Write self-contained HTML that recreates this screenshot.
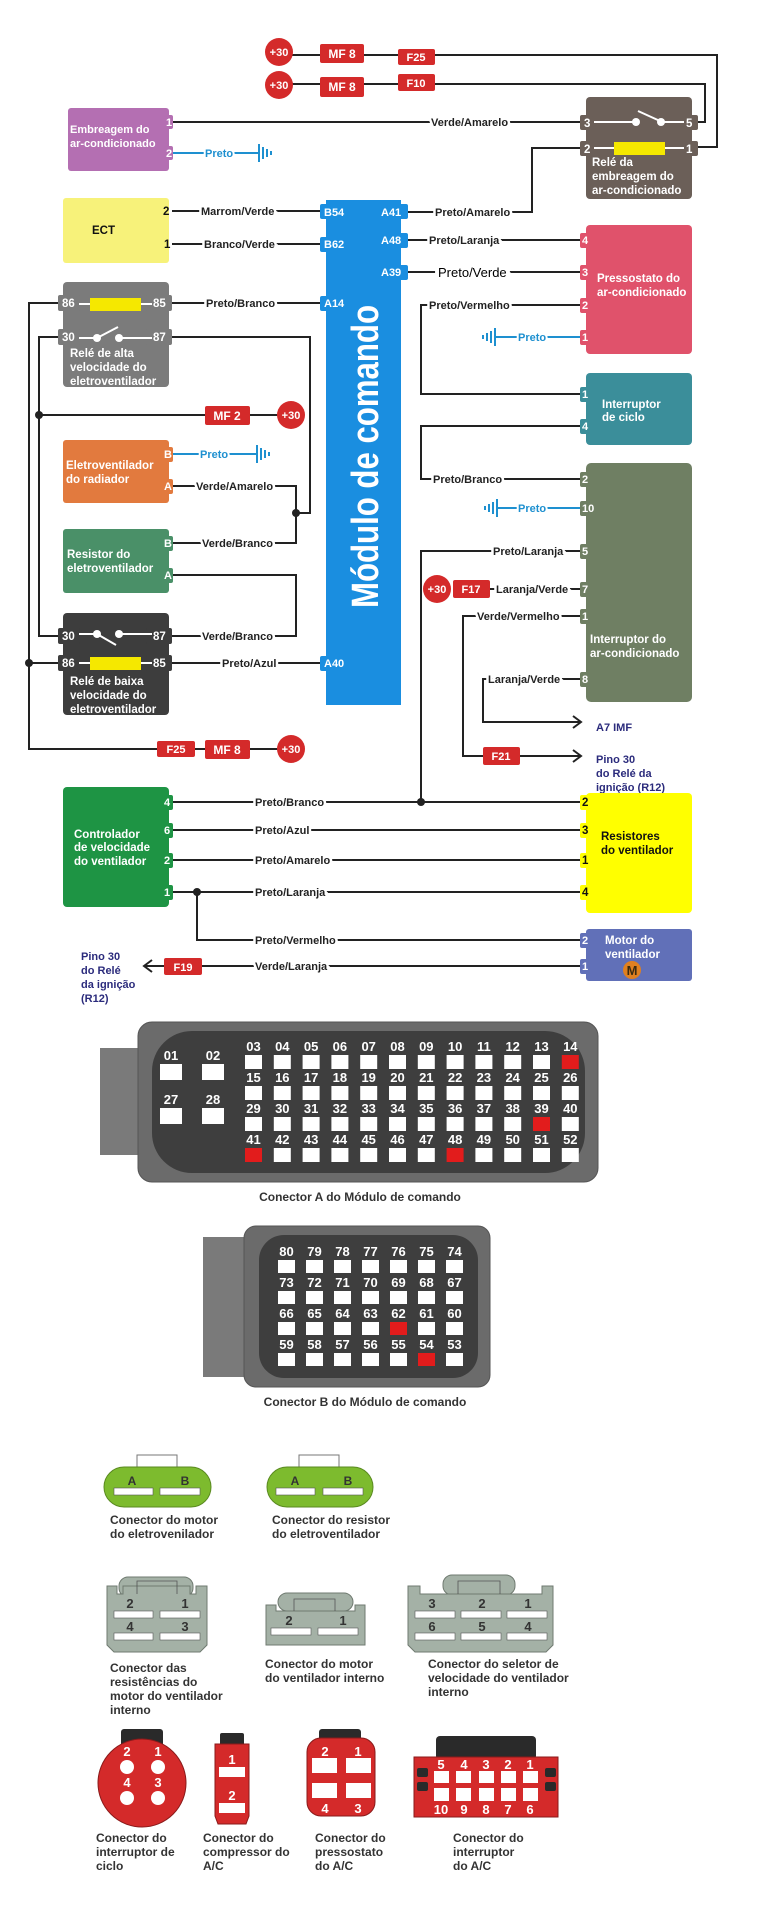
<!DOCTYPE html>
<html><head><meta charset="utf-8"><style>
html,body{margin:0;padding:0;background:#fff}
svg{display:block}
text{font-family:"Liberation Sans",Arial,sans-serif;font-weight:bold}
.l{font-size:11px;fill:#222;paint-order:stroke;stroke:#fff;stroke-width:5px}
.w{font-size:11px;fill:#fff}
.wb{font-size:11.5px;fill:#fff}
.k{font-size:11.5px;fill:#111}
.n{font-size:11px;fill:#2b2b7c}
.p{font-size:11px;fill:#fff}
.bl{font-size:11px;fill:#1e90d0;paint-order:stroke;stroke:#fff;stroke-width:4px}
.c{font-size:12px;fill:#333}
.cn{font-size:13px;fill:#fff;text-anchor:middle}
.wire{stroke:#222;stroke-width:2;fill:none}
.bw{stroke:#1e90d0;stroke-width:2;fill:none}
.rb{fill:#d42a2a}
</style></head><body>
<svg width="772" height="1923" viewBox="0 0 772 1923" xmlns="http://www.w3.org/2000/svg">
<!-- wires -->
<g class="wire">
<polyline points="279,55 717,55 717,147 692,147"/>
<polyline points="279,84 705,84 705,122 692,122"/>
<line x1="172" y1="122" x2="580" y2="122"/>
<polyline points="580,148 532,148 532,212 407,212"/>
<line x1="172" y1="211" x2="320" y2="211"/>
<line x1="172" y1="244" x2="320" y2="244"/>
<line x1="407" y1="240" x2="580" y2="240"/>
<line x1="407" y1="272" x2="580" y2="272"/>
<polyline points="580,305 421,305 421,394 580,394"/>
<polyline points="580,426 421,426 421,479 580,479"/>
<polyline points="580,551 421,551 421,802"/>
<line x1="580" y1="589" x2="490" y2="589"/>
<polyline points="580,616 463,616 463,756 581,756"/>
<polyline points="580,679 483,679 483,722 581,722"/>
<polyline points="573,716 581,722 573,728"/>
<polyline points="573,750 581,756 573,762"/>
<line x1="172" y1="303" x2="320" y2="303"/>
<polyline points="58,303 29,303 29,749 291,749"/>
<polyline points="58,337 39,337 39,636 58,636"/>
<line x1="39" y1="415" x2="291" y2="415"/>
<polyline points="172,337 310,337 310,513 296,513"/>
<polyline points="172,486 296,486 296,543 172,543"/>
<polyline points="172,575 296,575 296,636 172,636"/>
<line x1="29" y1="663" x2="58" y2="663"/>
<line x1="172" y1="663" x2="320" y2="663"/>
<line x1="172" y1="802" x2="580" y2="802"/>
<line x1="172" y1="830" x2="580" y2="830"/>
<line x1="172" y1="860" x2="580" y2="860"/>
<line x1="172" y1="892" x2="580" y2="892"/>
<polyline points="197,892 197,940 580,940"/>
<line x1="580" y1="966" x2="145" y2="966"/>
<polyline points="152,960 144,966 152,972"/>
</g>
<g fill="#222">
<circle cx="421" cy="802" r="4"/><circle cx="197" cy="892" r="4"/>
<circle cx="39" cy="415" r="4"/><circle cx="29" cy="663" r="4"/><circle cx="296" cy="513" r="4"/>
</g>
<!-- blue ground wires -->
<g class="bw">
<line x1="172" y1="153" x2="259" y2="153"/>
<line x1="259" y1="144" x2="259" y2="162"/><line x1="263" y1="147" x2="263" y2="159"/><line x1="267" y1="149" x2="267" y2="157"/><line x1="271" y1="151" x2="271" y2="155"/>
<line x1="580" y1="337" x2="495" y2="337"/>
<line x1="495" y1="328" x2="495" y2="346"/><line x1="491" y1="331" x2="491" y2="343"/><line x1="487" y1="333" x2="487" y2="341"/><line x1="483" y1="335" x2="483" y2="339"/>
<line x1="580" y1="508" x2="497" y2="508"/>
<line x1="497" y1="499" x2="497" y2="517"/><line x1="493" y1="502" x2="493" y2="514"/><line x1="489" y1="504" x2="489" y2="512"/><line x1="485" y1="506" x2="485" y2="510"/>
<line x1="172" y1="454" x2="257" y2="454"/>
<line x1="257" y1="445" x2="257" y2="463"/><line x1="261" y1="448" x2="261" y2="460"/><line x1="265" y1="450" x2="265" y2="458"/><line x1="269" y1="452" x2="269" y2="456"/>
</g>
<text class="bl" x="205" y="157">Preto</text>
<text class="bl" x="518" y="341">Preto</text>
<text class="bl" x="518" y="512">Preto</text>
<text class="bl" x="200" y="458">Preto</text>

<!-- wire labels -->
<text class="l" x="431" y="126">Verde/Amarelo</text>
<text class="l" x="201" y="215">Marrom/Verde</text>
<text class="l" x="204" y="248">Branco/Verde</text>
<text class="l" x="435" y="216">Preto/Amarelo</text>
<text class="l" x="429" y="244">Preto/Laranja</text>
<text x="438" y="277" style="font-size:13px;font-weight:normal;fill:#000;paint-order:stroke;stroke:#fff;stroke-width:8px">Preto/Verde</text>
<text class="l" x="429" y="309">Preto/Vermelho</text>
<text class="l" x="433" y="483">Preto/Branco</text>
<text class="l" x="493" y="555">Preto/Laranja</text>
<text class="l" x="496" y="593">Laranja/Verde</text>
<text class="l" x="477" y="620">Verde/Vermelho</text>
<text class="l" x="488" y="683">Laranja/Verde</text>
<text class="l" x="206" y="307">Preto/Branco</text>
<text class="l" x="196" y="490">Verde/Amarelo</text>
<text class="l" x="202" y="547">Verde/Branco</text>
<text class="l" x="202" y="640">Verde/Branco</text>
<text class="l" x="222" y="667">Preto/Azul</text>
<text class="l" x="255" y="806">Preto/Branco</text>
<text class="l" x="255" y="834">Preto/Azul</text>
<text class="l" x="255" y="864">Preto/Amarelo</text>
<text class="l" x="255" y="896">Preto/Laranja</text>
<text class="l" x="255" y="944">Preto/Vermelho</text>
<text class="l" x="255" y="970">Verde/Laranja</text>
<text class="n" x="596" y="731">A7 IMF</text>
<text class="n" x="596" y="763">Pino 30</text>
<text class="n" x="596" y="777">do Relé da</text>
<text class="n" x="596" y="791">ignição (R12)</text>
<text class="n" x="81" y="960">Pino 30</text>
<text class="n" x="81" y="974">do Relé</text>
<text class="n" x="81" y="988">da ignição</text>
<text class="n" x="81" y="1002">(R12)</text>

<!-- fuses / +30 -->
<g>
<circle class="rb" cx="279" cy="52" r="14"/><text class="p" x="279" y="56" text-anchor="middle">+30</text>
<rect class="rb" x="320" y="44" width="44" height="19" rx="2"/><text class="p" x="342" y="58" text-anchor="middle" style="font-size:12px">MF 8</text>
<rect class="rb" x="398" y="49" width="37" height="16" rx="2"/><text class="p" x="416" y="61" text-anchor="middle">F25</text>
<circle class="rb" cx="279" cy="85" r="14"/><text class="p" x="279" y="89" text-anchor="middle">+30</text>
<rect class="rb" x="320" y="77" width="44" height="20" rx="2"/><text class="p" x="342" y="91" text-anchor="middle" style="font-size:12px">MF 8</text>
<rect class="rb" x="398" y="74" width="37" height="17" rx="2"/><text class="p" x="416" y="87" text-anchor="middle">F10</text>
<rect class="rb" x="205" y="406" width="45" height="19" rx="2"/><text class="p" x="227" y="420" text-anchor="middle" style="font-size:12px">MF 2</text>
<circle class="rb" cx="291" cy="415" r="14"/><text class="p" x="291" y="419" text-anchor="middle">+30</text>
<rect class="rb" x="157" y="741" width="38" height="16" rx="2"/><text class="p" x="176" y="753" text-anchor="middle">F25</text>
<rect class="rb" x="205" y="740" width="45" height="19" rx="2"/><text class="p" x="227" y="754" text-anchor="middle" style="font-size:12px">MF 8</text>
<circle class="rb" cx="291" cy="749" r="14"/><text class="p" x="291" y="753" text-anchor="middle">+30</text>
<circle class="rb" cx="437" cy="589" r="14"/><text class="p" x="437" y="593" text-anchor="middle">+30</text>
<rect class="rb" x="453" y="580" width="37" height="18" rx="2"/><text class="p" x="471" y="593" text-anchor="middle">F17</text>
<rect class="rb" x="483" y="747" width="37" height="18" rx="2"/><text class="p" x="501" y="760" text-anchor="middle">F21</text>
<rect class="rb" x="164" y="958" width="38" height="17" rx="2"/><text class="p" x="183" y="971" text-anchor="middle">F19</text>
</g>

<!-- Embreagem -->
<rect x="68" y="108" width="101" height="63" rx="3" fill="#b46fb2"/>
<rect x="164" y="115" width="9" height="14" rx="2" fill="#b46fb2"/><text class="w" x="166" y="126">1</text>
<rect x="164" y="146" width="9" height="14" rx="2" fill="#b46fb2"/><text class="w" x="166" y="157">2</text>
<text class="w" x="70" y="133">Embreagem do</text><text class="w" x="70" y="147">ar-condicionado</text>

<!-- Relay embreagem -->
<rect x="586" y="97" width="106" height="102" rx="4" fill="#6b5f58"/>
<rect x="580" y="115" width="13" height="15" rx="2" fill="#6b5f58"/><rect x="686" y="115" width="12" height="15" rx="2" fill="#6b5f58"/>
<rect x="580" y="141" width="13" height="15" rx="2" fill="#6b5f58"/><rect x="686" y="141" width="12" height="15" rx="2" fill="#6b5f58"/>
<text class="wb" x="584" y="127">3</text><text class="wb" x="686" y="127">5</text>
<text class="wb" x="584" y="153">2</text><text class="wb" x="686" y="153">1</text>
<g stroke="#fff" stroke-width="2"><line x1="594" y1="122" x2="636" y2="122"/><line x1="661" y1="122" x2="684" y2="122"/><line x1="638" y1="111" x2="660" y2="121"/>
<line x1="594" y1="148" x2="614" y2="148"/><line x1="665" y1="148" x2="684" y2="148"/></g>
<circle cx="636" cy="122" r="4" fill="#fff"/><circle cx="661" cy="122" r="4" fill="#fff"/>
<rect x="614" y="142" width="51" height="13" fill="#f5e800"/>
<text class="wb" x="592" y="166">Relé da</text><text class="wb" x="592" y="180">embreagem do</text><text class="wb" x="592" y="194">ar-condicionado</text>

<!-- ECT -->
<rect x="63" y="198" width="106" height="65" rx="3" fill="#f7f27a"/>
<text class="k" x="92" y="234">ECT</text>
<text class="k" x="163" y="215">2</text><text class="k" x="164" y="248">1</text>

<!-- Module -->
<rect x="326" y="200" width="75" height="505" fill="#1a8ee0"/>
<g fill="#1a8ee0"><rect x="320" y="204" width="12" height="15" rx="2"/><rect x="320" y="237" width="12" height="15" rx="2"/><rect x="320" y="296" width="12" height="15" rx="2"/><rect x="320" y="656" width="12" height="15" rx="2"/>
<rect x="396" y="204" width="12" height="15" rx="2"/><rect x="396" y="233" width="12" height="15" rx="2"/><rect x="396" y="265" width="12" height="15" rx="2"/></g>
<text class="w" x="324" y="216">B54</text><text class="w" x="324" y="248">B62</text><text class="w" x="324" y="307">A14</text><text class="w" x="324" y="667">A40</text>
<text class="w" x="381" y="216">A41</text><text class="w" x="381" y="244">A48</text><text class="w" x="381" y="276">A39</text>
<text transform="translate(378,608) rotate(-90)" x="0" y="0" textLength="303" lengthAdjust="spacingAndGlyphs" style="font-size:38px;fill:#fff">Módulo de comando</text>

<!-- Pressostato -->
<rect x="586" y="225" width="106" height="129" rx="4" fill="#e0526b"/>
<g fill="#e0526b"><rect x="580" y="233" width="10" height="15" rx="2"/><rect x="580" y="265" width="10" height="15" rx="2"/><rect x="580" y="298" width="10" height="15" rx="2"/><rect x="580" y="330" width="10" height="15" rx="2"/></g>
<text class="w" x="582" y="244">4</text><text class="w" x="582" y="276">3</text><text class="w" x="582" y="309">2</text><text class="w" x="582" y="341">1</text>
<text class="wb" x="597" y="282">Pressostato do</text><text class="wb" x="597" y="296">ar-condicionado</text>

<!-- Ciclo -->
<rect x="586" y="373" width="106" height="72" rx="4" fill="#3b8e9a"/>
<g fill="#3b8e9a"><rect x="580" y="387" width="10" height="15" rx="2"/><rect x="580" y="419" width="10" height="15" rx="2"/></g>
<text class="w" x="582" y="398">1</text><text class="w" x="582" y="430">4</text>
<text class="wb" x="602" y="408">Interruptor</text><text class="wb" x="602" y="421">de ciclo</text>

<!-- AC switch -->
<rect x="586" y="463" width="106" height="239" rx="5" fill="#6f7f63"/>
<g fill="#6f7f63"><rect x="580" y="472" width="10" height="15" rx="2"/><rect x="580" y="501" width="16" height="15" rx="2"/><rect x="580" y="544" width="10" height="15" rx="2"/><rect x="580" y="582" width="10" height="15" rx="2"/><rect x="580" y="609" width="10" height="15" rx="2"/><rect x="580" y="672" width="10" height="15" rx="2"/></g>
<text class="w" x="582" y="483">2</text><text class="w" x="582" y="512">10</text><text class="w" x="582" y="555">5</text><text class="w" x="582" y="593">7</text><text class="w" x="582" y="620">1</text><text class="w" x="582" y="683">8</text>
<text class="wb" x="590" y="643">Interruptor do</text><text class="wb" x="590" y="657">ar-condicionado</text>

<!-- Relay alta -->
<rect x="63" y="282" width="106" height="105" rx="4" fill="#7b7b7b"/>
<g fill="#7b7b7b"><rect x="58" y="295" width="22" height="16" rx="2"/><rect x="146" y="295" width="26" height="16" rx="2"/><rect x="58" y="329" width="22" height="16" rx="2"/><rect x="146" y="329" width="26" height="16" rx="2"/></g>
<text class="wb" x="62" y="307">86</text><text class="wb" x="153" y="307">85</text><text class="wb" x="62" y="341">30</text><text class="wb" x="153" y="341">87</text>
<g stroke="#fff" stroke-width="2"><line x1="79" y1="304" x2="90" y2="304"/><line x1="141" y1="304" x2="152" y2="304"/><line x1="79" y1="338" x2="97" y2="338"/><line x1="119" y1="338" x2="152" y2="338"/><line x1="97" y1="338" x2="118" y2="327"/></g>
<circle cx="97" cy="338" r="4" fill="#fff"/><circle cx="119" cy="338" r="4" fill="#fff"/>
<rect x="90" y="298" width="51" height="13" fill="#f5e800"/>
<text class="wb" x="70" y="357">Relé de alta</text><text class="wb" x="70" y="371">velocidade do</text><text class="wb" x="70" y="385">eletroventilador</text>

<!-- Eletroventilador -->
<rect x="63" y="440" width="106" height="63" rx="3" fill="#e27a3e"/>
<g fill="#e27a3e"><rect x="163" y="447" width="10" height="15" rx="2"/><rect x="163" y="479" width="10" height="15" rx="2"/></g>
<text class="w" x="164" y="458">B</text><text class="w" x="164" y="490">A</text>
<text class="wb" x="66" y="469">Eletroventilador</text><text class="wb" x="66" y="483">do radiador</text>

<!-- Resistor -->
<rect x="63" y="529" width="106" height="64" rx="3" fill="#4a9068"/>
<g fill="#4a9068"><rect x="163" y="536" width="10" height="15" rx="2"/><rect x="163" y="568" width="10" height="15" rx="2"/></g>
<text class="w" x="164" y="547">B</text><text class="w" x="164" y="579">A</text>
<text class="wb" x="67" y="558">Resistor do</text><text class="wb" x="67" y="572">eletroventilador</text>

<!-- Relay baixa -->
<rect x="63" y="613" width="106" height="102" rx="4" fill="#3d3d3d"/>
<g fill="#3d3d3d"><rect x="58" y="628" width="22" height="16" rx="2"/><rect x="146" y="628" width="26" height="16" rx="2"/><rect x="58" y="655" width="22" height="16" rx="2"/><rect x="146" y="655" width="26" height="16" rx="2"/></g>
<text class="wb" x="62" y="640">30</text><text class="wb" x="153" y="640">87</text><text class="wb" x="62" y="667">86</text><text class="wb" x="153" y="667">85</text>
<g stroke="#fff" stroke-width="2"><line x1="79" y1="634" x2="97" y2="634"/><line x1="119" y1="634" x2="152" y2="634"/><line x1="97" y1="634" x2="116" y2="645"/><line x1="79" y1="663" x2="90" y2="663"/><line x1="141" y1="663" x2="152" y2="663"/></g>
<circle cx="97" cy="634" r="4" fill="#fff"/><circle cx="119" cy="634" r="4" fill="#fff"/>
<rect x="90" y="657" width="51" height="13" fill="#f5e800"/>
<text class="wb" x="70" y="685">Relé de baixa</text><text class="wb" x="70" y="699">velocidade do</text><text class="wb" x="70" y="713">eletroventilador</text>

<!-- Controlador -->
<rect x="63" y="787" width="106" height="120" rx="4" fill="#1e9444"/>
<g fill="#1e9444"><rect x="163" y="795" width="10" height="15" rx="2"/><rect x="163" y="823" width="10" height="15" rx="2"/><rect x="163" y="853" width="10" height="15" rx="2"/><rect x="163" y="885" width="10" height="15" rx="2"/></g>
<text class="w" x="164" y="806">4</text><text class="w" x="164" y="834">6</text><text class="w" x="164" y="864">2</text><text class="w" x="164" y="896">1</text>
<text class="wb" x="74" y="838">Controlador</text><text class="wb" x="74" y="851">de velocidade</text><text class="wb" x="74" y="865">do ventilador</text>

<!-- Resistores -->
<rect x="586" y="793" width="106" height="120" rx="4" fill="#ffff00"/>
<g fill="#ffff00"><rect x="580" y="795" width="10" height="15" rx="2"/><rect x="580" y="823" width="10" height="15" rx="2"/><rect x="580" y="853" width="10" height="15" rx="2"/><rect x="580" y="885" width="10" height="15" rx="2"/></g>
<text class="k" x="582" y="806">2</text><text class="k" x="582" y="834">3</text><text class="k" x="582" y="864">1</text><text class="k" x="582" y="896">4</text>
<text class="k" x="601" y="840">Resistores</text><text class="k" x="601" y="854">do ventilador</text>

<!-- Motor -->
<rect x="586" y="929" width="106" height="52" rx="3" fill="#6170b8"/>
<g fill="#6170b8"><rect x="580" y="933" width="10" height="15" rx="2"/><rect x="580" y="959" width="10" height="15" rx="2"/></g>
<text class="w" x="582" y="944">2</text><text class="w" x="582" y="970">1</text>
<text class="wb" x="605" y="944">Motor do</text><text class="wb" x="605" y="958">ventilador</text>
<circle cx="632" cy="970" r="9" fill="#e08020"/><text x="632" y="975" text-anchor="middle" style="font-size:13px;fill:#3a2a10">M</text>

<!-- Connector A -->
<rect x="100" y="1048" width="42" height="107" fill="#7a7a7a"/>
<rect x="138" y="1022" width="460" height="160" rx="14" fill="#6b6b6b" stroke="#555"/>
<rect x="152" y="1031" width="433" height="142" rx="40" fill="#3e3e3e"/>
<g fill="#fff"><rect x="160" y="1064" width="22" height="16"/><rect x="202" y="1064" width="22" height="16"/><rect x="160" y="1108" width="22" height="16"/><rect x="202" y="1108" width="22" height="16"/></g>
<text class="cn" x="171" y="1060">01</text><text class="cn" x="213" y="1060">02</text><text class="cn" x="171" y="1104">27</text><text class="cn" x="213" y="1104">28</text>
<g fill="#fff">
<rect x="245" y="1055" width="17" height="14"/><rect x="273.8" y="1055" width="17" height="14"/><rect x="302.6" y="1055" width="17" height="14"/><rect x="331.4" y="1055" width="17" height="14"/><rect x="360.2" y="1055" width="17" height="14"/><rect x="389" y="1055" width="17" height="14"/><rect x="417.8" y="1055" width="17" height="14"/><rect x="446.6" y="1055" width="17" height="14"/><rect x="475.4" y="1055" width="17" height="14"/><rect x="504.2" y="1055" width="17" height="14"/><rect x="533" y="1055" width="17" height="14"/><rect x="561.8" y="1055" width="17" height="14" fill="#e21c1c"/>
<rect x="245" y="1086" width="17" height="14"/><rect x="273.8" y="1086" width="17" height="14"/><rect x="302.6" y="1086" width="17" height="14"/><rect x="331.4" y="1086" width="17" height="14"/><rect x="360.2" y="1086" width="17" height="14"/><rect x="389" y="1086" width="17" height="14"/><rect x="417.8" y="1086" width="17" height="14"/><rect x="446.6" y="1086" width="17" height="14"/><rect x="475.4" y="1086" width="17" height="14"/><rect x="504.2" y="1086" width="17" height="14"/><rect x="533" y="1086" width="17" height="14"/><rect x="561.8" y="1086" width="17" height="14"/>
<rect x="245" y="1117" width="17" height="14"/><rect x="273.8" y="1117" width="17" height="14"/><rect x="302.6" y="1117" width="17" height="14"/><rect x="331.4" y="1117" width="17" height="14"/><rect x="360.2" y="1117" width="17" height="14"/><rect x="389" y="1117" width="17" height="14"/><rect x="417.8" y="1117" width="17" height="14"/><rect x="446.6" y="1117" width="17" height="14"/><rect x="475.4" y="1117" width="17" height="14"/><rect x="504.2" y="1117" width="17" height="14"/><rect x="533" y="1117" width="17" height="14" fill="#e21c1c"/><rect x="561.8" y="1117" width="17" height="14"/>
<rect x="245" y="1148" width="17" height="14" fill="#e21c1c"/><rect x="273.8" y="1148" width="17" height="14"/><rect x="302.6" y="1148" width="17" height="14"/><rect x="331.4" y="1148" width="17" height="14"/><rect x="360.2" y="1148" width="17" height="14"/><rect x="389" y="1148" width="17" height="14"/><rect x="417.8" y="1148" width="17" height="14"/><rect x="446.6" y="1148" width="17" height="14" fill="#e21c1c"/><rect x="475.4" y="1148" width="17" height="14"/><rect x="504.2" y="1148" width="17" height="14"/><rect x="533" y="1148" width="17" height="14"/><rect x="561.8" y="1148" width="17" height="14"/>
</g>
<g class="cn">
<text class="cn" x="253.5" y="1051">03</text><text class="cn" x="282.3" y="1051">04</text><text class="cn" x="311.1" y="1051">05</text><text class="cn" x="339.9" y="1051">06</text><text class="cn" x="368.7" y="1051">07</text><text class="cn" x="397.5" y="1051">08</text><text class="cn" x="426.3" y="1051">09</text><text class="cn" x="455.1" y="1051">10</text><text class="cn" x="483.9" y="1051">11</text><text class="cn" x="512.7" y="1051">12</text><text class="cn" x="541.5" y="1051">13</text><text class="cn" x="570.3" y="1051">14</text>
<text class="cn" x="253.5" y="1082">15</text><text class="cn" x="282.3" y="1082">16</text><text class="cn" x="311.1" y="1082">17</text><text class="cn" x="339.9" y="1082">18</text><text class="cn" x="368.7" y="1082">19</text><text class="cn" x="397.5" y="1082">20</text><text class="cn" x="426.3" y="1082">21</text><text class="cn" x="455.1" y="1082">22</text><text class="cn" x="483.9" y="1082">23</text><text class="cn" x="512.7" y="1082">24</text><text class="cn" x="541.5" y="1082">25</text><text class="cn" x="570.3" y="1082">26</text>
<text class="cn" x="253.5" y="1113">29</text><text class="cn" x="282.3" y="1113">30</text><text class="cn" x="311.1" y="1113">31</text><text class="cn" x="339.9" y="1113">32</text><text class="cn" x="368.7" y="1113">33</text><text class="cn" x="397.5" y="1113">34</text><text class="cn" x="426.3" y="1113">35</text><text class="cn" x="455.1" y="1113">36</text><text class="cn" x="483.9" y="1113">37</text><text class="cn" x="512.7" y="1113">38</text><text class="cn" x="541.5" y="1113">39</text><text class="cn" x="570.3" y="1113">40</text>
<text class="cn" x="253.5" y="1144">41</text><text class="cn" x="282.3" y="1144">42</text><text class="cn" x="311.1" y="1144">43</text><text class="cn" x="339.9" y="1144">44</text><text class="cn" x="368.7" y="1144">45</text><text class="cn" x="397.5" y="1144">46</text><text class="cn" x="426.3" y="1144">47</text><text class="cn" x="455.1" y="1144">48</text><text class="cn" x="483.9" y="1144">49</text><text class="cn" x="512.7" y="1144">50</text><text class="cn" x="541.5" y="1144">51</text><text class="cn" x="570.3" y="1144">52</text>
</g>
<text class="c" x="360" y="1201" text-anchor="middle">Conector A do Módulo de comando</text>

<!-- Connector B -->
<rect x="203" y="1237" width="44" height="140" fill="#7a7a7a"/>
<rect x="244" y="1226" width="246" height="161" rx="12" fill="#6b6b6b" stroke="#555"/>
<rect x="259" y="1235" width="219" height="143" rx="25" fill="#3e3e3e"/>
<g fill="#fff">
<rect x="278" y="1260" width="17" height="13"/><rect x="306" y="1260" width="17" height="13"/><rect x="334" y="1260" width="17" height="13"/><rect x="362" y="1260" width="17" height="13"/><rect x="390" y="1260" width="17" height="13"/><rect x="418" y="1260" width="17" height="13"/><rect x="446" y="1260" width="17" height="13"/>
<rect x="278" y="1291" width="17" height="13"/><rect x="306" y="1291" width="17" height="13"/><rect x="334" y="1291" width="17" height="13"/><rect x="362" y="1291" width="17" height="13"/><rect x="390" y="1291" width="17" height="13"/><rect x="418" y="1291" width="17" height="13"/><rect x="446" y="1291" width="17" height="13"/>
<rect x="278" y="1322" width="17" height="13"/><rect x="306" y="1322" width="17" height="13"/><rect x="334" y="1322" width="17" height="13"/><rect x="362" y="1322" width="17" height="13"/><rect x="390" y="1322" width="17" height="13" fill="#e21c1c"/><rect x="418" y="1322" width="17" height="13"/><rect x="446" y="1322" width="17" height="13"/>
<rect x="278" y="1353" width="17" height="13"/><rect x="306" y="1353" width="17" height="13"/><rect x="334" y="1353" width="17" height="13"/><rect x="362" y="1353" width="17" height="13"/><rect x="390" y="1353" width="17" height="13"/><rect x="418" y="1353" width="17" height="13" fill="#e21c1c"/><rect x="446" y="1353" width="17" height="13"/>
</g>
<text class="cn" x="286.5" y="1256">80</text><text class="cn" x="314.5" y="1256">79</text><text class="cn" x="342.5" y="1256">78</text><text class="cn" x="370.5" y="1256">77</text><text class="cn" x="398.5" y="1256">76</text><text class="cn" x="426.5" y="1256">75</text><text class="cn" x="454.5" y="1256">74</text>
<text class="cn" x="286.5" y="1287">73</text><text class="cn" x="314.5" y="1287">72</text><text class="cn" x="342.5" y="1287">71</text><text class="cn" x="370.5" y="1287">70</text><text class="cn" x="398.5" y="1287">69</text><text class="cn" x="426.5" y="1287">68</text><text class="cn" x="454.5" y="1287">67</text>
<text class="cn" x="286.5" y="1318">66</text><text class="cn" x="314.5" y="1318">65</text><text class="cn" x="342.5" y="1318">64</text><text class="cn" x="370.5" y="1318">63</text><text class="cn" x="398.5" y="1318">62</text><text class="cn" x="426.5" y="1318">61</text><text class="cn" x="454.5" y="1318">60</text>
<text class="cn" x="286.5" y="1349">59</text><text class="cn" x="314.5" y="1349">58</text><text class="cn" x="342.5" y="1349">57</text><text class="cn" x="370.5" y="1349">56</text><text class="cn" x="398.5" y="1349">55</text><text class="cn" x="426.5" y="1349">54</text><text class="cn" x="454.5" y="1349">53</text>
<text class="c" x="365" y="1406" text-anchor="middle">Conector B do Módulo de comando</text>

<!-- Green connectors -->
<rect x="137" y="1455" width="40" height="14" fill="#fff" stroke="#777"/>
<rect x="104" y="1467" width="107" height="40" rx="20" fill="#7dbb2e" stroke="#5a8a20"/>
<rect x="114" y="1488" width="39" height="7" fill="#fff" stroke="#555" stroke-width=".6"/><rect x="160" y="1488" width="40" height="7" fill="#fff" stroke="#555" stroke-width=".6"/>
<text x="132" y="1485" text-anchor="middle" style="font-size:12px;fill:#333">A</text><text x="185" y="1485" text-anchor="middle" style="font-size:12px;fill:#333">B</text>
<text class="c" x="110" y="1524">Conector do motor</text><text class="c" x="110" y="1538">do eletrovenilador</text>
<rect x="299" y="1455" width="40" height="14" fill="#fff" stroke="#777"/>
<rect x="267" y="1467" width="106" height="40" rx="20" fill="#7dbb2e" stroke="#5a8a20"/>
<rect x="276" y="1488" width="39" height="7" fill="#fff" stroke="#555" stroke-width=".6"/><rect x="323" y="1488" width="40" height="7" fill="#fff" stroke="#555" stroke-width=".6"/>
<text x="295" y="1485" text-anchor="middle" style="font-size:12px;fill:#333">A</text><text x="348" y="1485" text-anchor="middle" style="font-size:12px;fill:#333">B</text>
<text class="c" x="272" y="1524">Conector do resistor</text><text class="c" x="272" y="1538">do eletroventilador</text>

<!-- Gray connectors -->
<g fill="#a4b1a6" stroke="#6f7a70">
<rect x="119" y="1577" width="74" height="20" rx="9"/>
<polygon points="107,1586 117,1586 117,1594 123,1594 123,1586 190,1586 190,1594 196,1594 196,1586 207,1586 207,1645 200,1652 114,1652 107,1645"/>
<rect x="278" y="1593" width="75" height="18" rx="9"/>
<polygon points="266,1605 276,1605 276,1611 355,1611 355,1605 365,1605 365,1645 266,1645"/>
<rect x="443" y="1575" width="72" height="20" rx="9"/>
<polygon points="408,1586 420,1586 420,1594 542,1594 542,1586 553,1586 553,1645 546,1652 415,1652 408,1645"/>
</g>
<g fill="none" stroke="#555" stroke-width=".8"><polyline points="137,1594 137,1581 177,1581 177,1594"/><polyline points="294,1611 294,1599 335,1599 335,1611"/><polyline points="458,1594 458,1581 500,1581 500,1594"/></g>
<g fill="#fff" stroke="#555" stroke-width=".6">
<rect x="114" y="1611" width="39" height="7"/><rect x="160" y="1611" width="40" height="7"/><rect x="114" y="1633" width="39" height="7"/><rect x="160" y="1633" width="40" height="7"/>
<rect x="271" y="1628" width="40" height="7"/><rect x="318" y="1628" width="40" height="7"/>
<rect x="415" y="1611" width="40" height="7"/><rect x="461" y="1611" width="40" height="7"/><rect x="507" y="1611" width="40" height="7"/>
<rect x="415" y="1633" width="40" height="7"/><rect x="461" y="1633" width="40" height="7"/><rect x="507" y="1633" width="40" height="7"/>
</g>
<g style="font-size:13px;fill:#333" text-anchor="middle">
<text x="130" y="1608">2</text><text x="185" y="1608">1</text><text x="130" y="1631">4</text><text x="185" y="1631">3</text>
<text x="289" y="1625">2</text><text x="343" y="1625">1</text>
<text x="432" y="1608">3</text><text x="482" y="1608">2</text><text x="528" y="1608">1</text>
<text x="432" y="1631">6</text><text x="482" y="1631">5</text><text x="528" y="1631">4</text>
</g>
<text class="c" x="110" y="1672">Conector das</text><text class="c" x="110" y="1686">resistências do</text><text class="c" x="110" y="1700">motor do ventilador</text><text class="c" x="110" y="1714">interno</text>
<text class="c" x="265" y="1668">Conector do motor</text><text class="c" x="265" y="1682">do ventilador interno</text>
<text class="c" x="428" y="1668">Conector do seletor de</text><text class="c" x="428" y="1682">velocidade do ventilador</text><text class="c" x="428" y="1696">interno</text>

<!-- Red connectors -->
<rect x="121" y="1729" width="42" height="18" rx="3" fill="#2a2a2a"/>
<circle cx="142" cy="1783" r="44" fill="#d42a2a" stroke="#8a1a1a"/>
<g fill="#fff"><circle cx="127" cy="1767" r="7"/><circle cx="158" cy="1767" r="7"/><circle cx="127" cy="1798" r="7"/><circle cx="158" cy="1798" r="7"/></g>
<g style="font-size:13px;fill:#fff" text-anchor="middle"><text x="127" y="1756">2</text><text x="158" y="1756">1</text><text x="127" y="1787">4</text><text x="158" y="1787">3</text></g>

<rect x="220" y="1733" width="24" height="13" rx="2" fill="#2a2a2a"/>
<polygon points="215,1744 249,1744 249,1816 246,1824 218,1824 215,1816" fill="#d42a2a" stroke="#8a1a1a"/>
<rect x="219" y="1767" width="26" height="10" fill="#fff"/><rect x="219" y="1803" width="26" height="10" fill="#fff"/>
<g style="font-size:13px;fill:#fff" text-anchor="middle"><text x="232" y="1764">1</text><text x="232" y="1800">2</text></g>

<rect x="319" y="1729" width="42" height="14" rx="3" fill="#2a2a2a"/>
<rect x="307" y="1738" width="68" height="78" rx="14" fill="#d42a2a" stroke="#8a1a1a"/>
<g fill="#fff"><rect x="312" y="1758" width="25" height="15"/><rect x="346" y="1758" width="25" height="15"/><rect x="312" y="1783" width="25" height="15"/><rect x="346" y="1783" width="25" height="15"/></g>
<g style="font-size:13px;fill:#fff" text-anchor="middle"><text x="325" y="1756">2</text><text x="358" y="1756">1</text><text x="325" y="1813">4</text><text x="358" y="1813">3</text></g>

<rect x="436" y="1736" width="100" height="24" rx="4" fill="#2a2a2a"/>
<rect x="414" y="1757" width="144" height="60" fill="#d42a2a" stroke="#8a1a1a"/>
<g fill="#2a2a2a"><rect x="417" y="1768" width="11" height="9" rx="2"/><rect x="417" y="1782" width="11" height="9" rx="2"/><rect x="545" y="1768" width="11" height="9" rx="2"/><rect x="545" y="1782" width="11" height="9" rx="2"/></g>
<g fill="#fff">
<rect x="434" y="1771" width="15" height="12"/><rect x="456" y="1771" width="15" height="12"/><rect x="479" y="1771" width="15" height="12"/><rect x="501" y="1771" width="15" height="12"/><rect x="523" y="1771" width="15" height="12"/>
<rect x="434" y="1788" width="15" height="13"/><rect x="456" y="1788" width="15" height="13"/><rect x="479" y="1788" width="15" height="13"/><rect x="501" y="1788" width="15" height="13"/><rect x="523" y="1788" width="15" height="13"/>
</g>
<g style="font-size:13px;fill:#fff" text-anchor="middle">
<text x="441" y="1769">5</text><text x="464" y="1769">4</text><text x="486" y="1769">3</text><text x="508" y="1769">2</text><text x="530" y="1769">1</text>
<text x="441" y="1814">10</text><text x="464" y="1814">9</text><text x="486" y="1814">8</text><text x="508" y="1814">7</text><text x="530" y="1814">6</text>
</g>
<text class="c" x="96" y="1842">Conector do</text><text class="c" x="96" y="1856">interruptor de</text><text class="c" x="96" y="1870">ciclo</text>
<text class="c" x="203" y="1842">Conector do</text><text class="c" x="203" y="1856">compressor do</text><text class="c" x="203" y="1870">A/C</text>
<text class="c" x="315" y="1842">Conector do</text><text class="c" x="315" y="1856">pressostato</text><text class="c" x="315" y="1870">do A/C</text>
<text class="c" x="453" y="1842">Conector do</text><text class="c" x="453" y="1856">interruptor</text><text class="c" x="453" y="1870">do A/C</text>
</svg>
</body></html>
